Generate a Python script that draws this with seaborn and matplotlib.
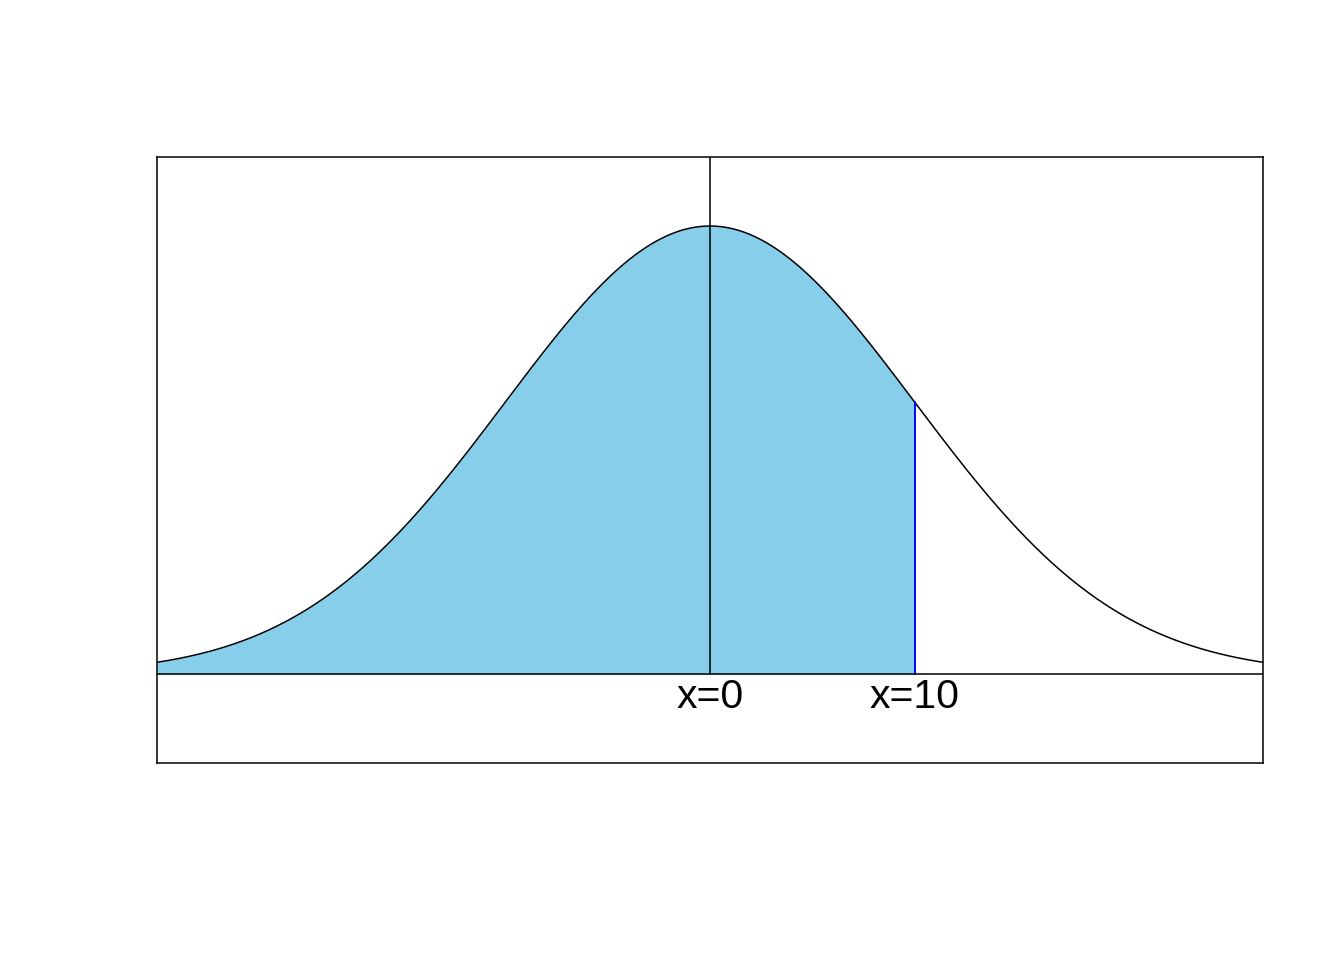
import numpy as np
import pandas as pd
import matplotlib
matplotlib.use("Agg")
import matplotlib.pyplot as plt
import seaborn as sns

# Distribution parameters and annotations
mean = 0.0
sd = 10.0
x_lo, x_hi = -27.0, 27.0
shade_upper = 10.0
label_positions = [0.0, 10.0]
label_texts = ["x=0", "x=10"]

xs = np.linspace(x_lo, x_hi, 1001)
dens = np.exp(-0.5 * ((xs - mean) / sd) ** 2) / (sd * np.sqrt(2 * np.pi))
df = pd.DataFrame({"x": xs, "density": dens})

sns.set_style("white")
plt.rcParams["font.family"] = ["Liberation Sans", "DejaVu Sans"]

fig = plt.figure(figsize=(13.44, 9.6), dpi=100)
ax = fig.add_axes([157 / 1344, 1 - 763 / 960, (1263 - 157) / 1344, (763 - 157) / 960])

y_lo, y_hi = -0.007925, 0.04604
lw = 1.1
mask = df["x"] <= shade_upper
ax.fill_between(df["x"][mask], 0, df["density"][mask], color="#87CEEB", linewidth=0)
sns.lineplot(data=df, x="x", y="density", ax=ax, color="black", linewidth=lw)

d_up = np.exp(-0.5 * ((shade_upper - mean) / sd) ** 2) / (sd * np.sqrt(2 * np.pi))
ax.plot([shade_upper, shade_upper], [0, d_up], color="blue", linewidth=lw + 0.3)
ax.plot([mean, mean], [0, y_hi], color="black", linewidth=lw)
ax.axhline(0, color="black", linewidth=lw)

for xp, t in zip(label_positions, label_texts):
    ax.text(xp, -0.00205, t, ha="center", va="center", fontsize=29.5, color="black")

ax.set_xlim(x_lo, x_hi)
ax.set_ylim(y_lo, y_hi)
ax.set_xticks([])
ax.set_yticks([])
ax.set_xlabel("")
ax.set_ylabel("")
for s in ax.spines.values():
    s.set_visible(True)
    s.set_color("black")
    s.set_linewidth(lw)

fig.savefig("out.png", dpi=100, facecolor="white")
